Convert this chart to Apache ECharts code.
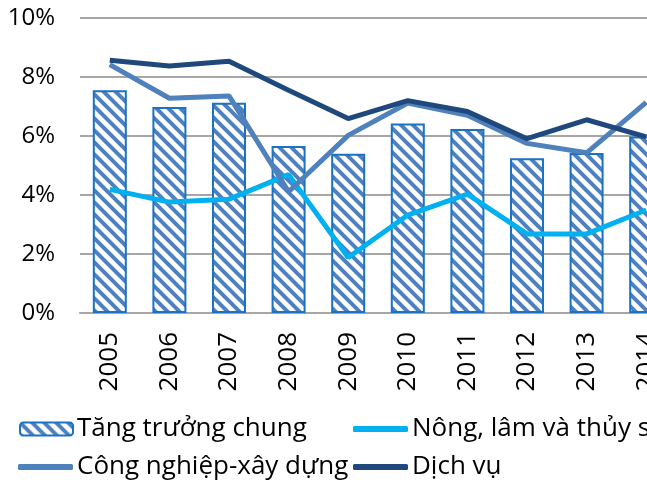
<!DOCTYPE html>
<html>
<head>
<meta charset="utf-8">
<script src="https://cdn.jsdelivr.net/npm/echarts@6/dist/echarts.min.js"></script>
<style>
  html, body { margin: 0; padding: 0; background: #fff; overflow: hidden; width: 647px; height: 482px; }
  #chart { width: 676px; height: 482px; }
</style>
</head>
<body>
<div id="chart"></div>
<script>
// so lieu tang truong (%)
var years = ['2005', '2006', '2007', '2008', '2009', '2010', '2011', '2012', '2013', '2014'];
var tangTruongChung = [7.55, 6.98, 7.13, 5.66, 5.40, 6.42, 6.24, 5.25, 5.42, 5.98];
var nongLamThuySan = [4.19, 3.76, 3.86, 4.69, 1.88, 3.32, 4.03, 2.68, 2.68, 3.49];
var congNghiepXayDung = [8.42, 7.28, 7.36, 4.11, 6.02, 7.12, 6.70, 5.75, 5.43, 7.14];
var dichVu = [8.57, 8.37, 8.53, 7.55, 6.59, 7.20, 6.83, 5.91, 6.55, 5.97];
var yTicks = [0, 2, 4, 6, 8, 10];

var names = ['Tăng trưởng chung', 'Nông, lâm và thủy sản', 'Công nghiệp-xây dựng', 'Dịch vụ'];
var font = '"Open Sans", "Noto Sans", sans-serif';

// hatch pattern for bars
function makeHatch() {
    var s = 12;
    var c = document.createElement('canvas');
    c.width = s; c.height = s;
    var ctx = c.getContext('2d');
    ctx.fillStyle = '#ffffff';
    ctx.fillRect(0, 0, s, s);
    ctx.strokeStyle = '#4f81bd';
    ctx.lineWidth = 4;
    ctx.beginPath();
    ctx.moveTo(-s, -s); ctx.lineTo(2 * s, 2 * s);
    ctx.moveTo(-s, 0); ctx.lineTo(s, 2 * s);
    ctx.moveTo(0, -s); ctx.lineTo(2 * s, s);
    ctx.stroke();
    return c;
}
var hatch = { image: makeHatch(), repeat: 'repeat' };

function legendAt(name, left, top, isLine) {
    return {
        data: [isLine ? { name: name, icon: 'roundRect' } : name],
        left: left,
        top: top,
        padding: 0,
        itemWidth: isLine ? 55 : 53,
        itemHeight: isLine ? 6 : 13,
        itemGap: 0,
        textStyle: { fontFamily: font, fontSize: 26, color: '#000', padding: [0, 0, 0, -1] }
    };
}

var chart = echarts.init(document.getElementById('chart'));
chart.setOption({
    animation: false,
    backgroundColor: '#fff',
    grid: { left: 80, right: 0, top: 18, bottom: 169, containLabel: false },
    legend: [
        legendAt(names[0], 19, 416, false),
        legendAt(names[1], 353, 416, true),
        legendAt(names[2], 18, 454, true),
        legendAt(names[3], 353, 454, true)
    ],
    xAxis: {
        type: 'category',
        data: years,
        axisLine: { lineStyle: { color: '#a6a6a6', width: 2 } },
        axisTick: { show: false },
        axisLabel: { rotate: 90, margin: 19, fontFamily: font, fontSize: 26, color: '#000' }
    },
    yAxis: {
        type: 'value',
        min: yTicks[0],
        max: yTicks[yTicks.length - 1],
        interval: 2,
        axisLine: { show: false },
        axisTick: { show: false },
        splitLine: { lineStyle: { color: '#a6a6a6', width: 2 } },
        axisLabel: {
            margin: 25, fontFamily: font, fontSize: 24, color: '#000',
            formatter: function (v) { return v + '%'; }
        }
    },
    series: [
        {
            name: names[0],
            type: 'bar',
            data: tangTruongChung,
            barWidth: 34,
            itemStyle: { color: hatch, borderColor: '#1a72c4', borderWidth: 2 }
        },
        {
            name: names[1],
            type: 'line',
            data: nongLamThuySan,
            showSymbol: false,
            symbol: 'none',
            color: '#00b0f0',
            lineStyle: { color: '#00b0f0', width: 5 }
        },
        {
            name: names[2],
            type: 'line',
            data: congNghiepXayDung,
            showSymbol: false,
            symbol: 'none',
            color: '#4f81bd',
            lineStyle: { color: '#4f81bd', width: 5 }
        },
        {
            name: names[3],
            type: 'line',
            data: dichVu,
            showSymbol: false,
            symbol: 'none',
            color: '#1f497d',
            lineStyle: { color: '#1f497d', width: 5 }
        }
    ]
});
</script>
</body>
</html>
